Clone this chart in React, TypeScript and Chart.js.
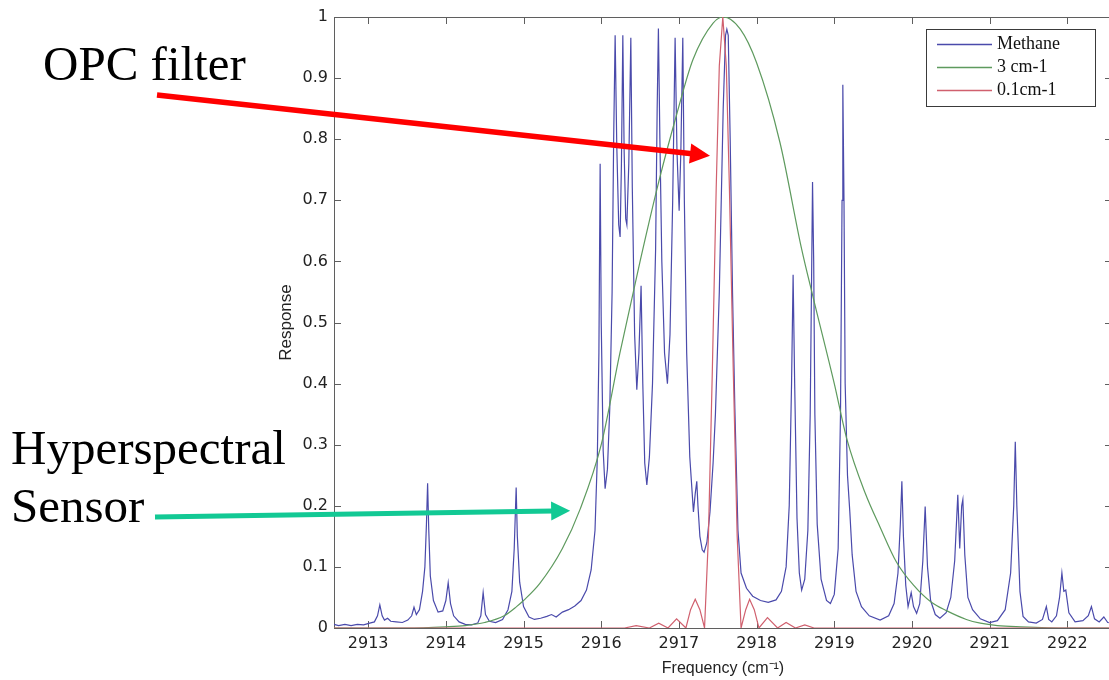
import React, { useEffect, useRef } from 'react';
import { Chart, registerables } from 'chart.js';

Chart.register(...registerables);

// ---------- data ----------
const xTicks = [2913, 2914, 2915, 2916, 2917, 2918, 2919, 2920, 2921, 2922];
const yTicks = [0, 0.1, 0.2, 0.3, 0.4, 0.5, 0.6, 0.7, 0.8, 0.9, 1];
const yTickLabels = ['0', '0.1', '0.2', '0.3', '0.4', '0.5', '0.6', '0.7', '0.8', '0.9', '1'];
const seriesLabels = ['Methane', '3 cm-1', '0.1cm-1'];
const xTitle = 'Frequency (cm\u207B\u00B9)';
const yTitle = 'Response';
const noteOPC = 'OPC filter';
const noteHyper = ['Hyperspectral', 'Sensor'];

const xRange = [2912.56, 2922.575];
const yRange = [0, 1];

// methane absorption response [frequency, response]
const methane: [number, number][] = [
  [2912.56, 0.006], [2912.62, 0.004], [2912.7, 0.006], [2912.78, 0.004], [2912.86, 0.006],
  [2912.94, 0.005], [2913.02, 0.008], [2913.08, 0.01], [2913.12, 0.02], [2913.15, 0.038],
  [2913.18, 0.02], [2913.21, 0.013], [2913.25, 0.016], [2913.29, 0.011], [2913.36, 0.01],
  [2913.44, 0.009], [2913.51, 0.013], [2913.56, 0.02], [2913.59, 0.034], [2913.62, 0.022],
  [2913.66, 0.03], [2913.7, 0.06], [2913.73, 0.1], [2913.75, 0.17], [2913.765, 0.237],
  [2913.78, 0.16], [2913.8, 0.085], [2913.84, 0.045], [2913.9, 0.026], [2913.96, 0.028],
  [2914.0, 0.045], [2914.03, 0.074], [2914.06, 0.04], [2914.1, 0.02], [2914.17, 0.01],
  [2914.25, 0.006], [2914.33, 0.005], [2914.41, 0.008], [2914.45, 0.02], [2914.48, 0.058],
  [2914.51, 0.022], [2914.56, 0.011], [2914.64, 0.009], [2914.73, 0.014], [2914.8, 0.03],
  [2914.85, 0.06], [2914.88, 0.13], [2914.905, 0.23], [2914.92, 0.15], [2914.95, 0.075],
  [2915.0, 0.035], [2915.07, 0.018], [2915.14, 0.014], [2915.22, 0.016], [2915.3, 0.019],
  [2915.36, 0.022], [2915.42, 0.018], [2915.5, 0.026], [2915.58, 0.03], [2915.66, 0.036],
  [2915.74, 0.045], [2915.81, 0.062], [2915.87, 0.095], [2915.92, 0.16], [2915.95, 0.28],
  [2915.97, 0.45], [2915.986, 0.76], [2916.0, 0.5], [2916.025, 0.29], [2916.05, 0.228],
  [2916.08, 0.26], [2916.11, 0.36], [2916.14, 0.55], [2916.16, 0.8], [2916.179, 0.97],
  [2916.2, 0.79], [2916.225, 0.66], [2916.243, 0.64], [2916.26, 0.76], [2916.278, 0.97],
  [2916.295, 0.78], [2916.315, 0.67], [2916.33, 0.66], [2916.355, 0.76], [2916.381, 0.966],
  [2916.4, 0.72], [2916.43, 0.48], [2916.458, 0.39], [2916.485, 0.45], [2916.513, 0.56],
  [2916.535, 0.4], [2916.56, 0.27], [2916.587, 0.234], [2916.62, 0.28], [2916.66, 0.4],
  [2916.7, 0.62], [2916.72, 0.85], [2916.736, 0.981], [2916.755, 0.8], [2916.78, 0.6],
  [2916.815, 0.45], [2916.852, 0.4], [2916.885, 0.48], [2916.92, 0.7], [2916.951, 0.966],
  [2916.975, 0.78], [2917.003, 0.683], [2917.025, 0.78], [2917.05, 0.966], [2917.07, 0.7],
  [2917.1, 0.45], [2917.14, 0.28], [2917.187, 0.19], [2917.21, 0.22], [2917.23, 0.24],
  [2917.245, 0.2], [2917.27, 0.15], [2917.3, 0.128], [2917.324, 0.124], [2917.36, 0.14],
  [2917.4, 0.19], [2917.44, 0.27], [2917.47, 0.35], [2917.52, 0.55], [2917.57, 0.85],
  [2917.6, 0.97], [2917.617, 0.98], [2917.635, 0.97], [2917.66, 0.8], [2917.69, 0.55],
  [2917.72, 0.36], [2917.76, 0.16], [2917.8, 0.09], [2917.87, 0.065], [2917.95, 0.052],
  [2918.05, 0.045], [2918.15, 0.042], [2918.25, 0.046], [2918.32, 0.06], [2918.38, 0.1],
  [2918.42, 0.2], [2918.45, 0.4], [2918.47, 0.578], [2918.49, 0.4], [2918.52, 0.18],
  [2918.55, 0.09], [2918.58, 0.062], [2918.62, 0.08], [2918.66, 0.16], [2918.69, 0.35],
  [2918.71, 0.6], [2918.72, 0.73], [2918.735, 0.6], [2918.75, 0.35], [2918.78, 0.17],
  [2918.83, 0.08], [2918.9, 0.045], [2918.95, 0.04], [2919.0, 0.055], [2919.05, 0.13],
  [2919.08, 0.35], [2919.1, 0.7], [2919.11, 0.889], [2919.125, 0.7], [2919.14, 0.4],
  [2919.17, 0.25], [2919.2, 0.19], [2919.23, 0.12], [2919.28, 0.06], [2919.35, 0.035],
  [2919.45, 0.02], [2919.59, 0.013], [2919.7, 0.02], [2919.77, 0.04], [2919.82, 0.09],
  [2919.85, 0.17], [2919.87, 0.24], [2919.89, 0.15], [2919.92, 0.07], [2919.95, 0.035],
  [2919.99, 0.058], [2920.02, 0.035], [2920.06, 0.024], [2920.1, 0.04], [2920.14, 0.11],
  [2920.17, 0.199], [2920.2, 0.1], [2920.24, 0.045], [2920.3, 0.022], [2920.36, 0.016],
  [2920.44, 0.025], [2920.5, 0.05], [2920.55, 0.11], [2920.59, 0.218], [2920.615, 0.13],
  [2920.64, 0.2], [2920.655, 0.21], [2920.68, 0.12], [2920.72, 0.05], [2920.78, 0.03],
  [2920.88, 0.015], [2921.0, 0.009], [2921.1, 0.012], [2921.2, 0.03], [2921.27, 0.09],
  [2921.31, 0.2], [2921.33, 0.305], [2921.35, 0.2], [2921.39, 0.06], [2921.43, 0.019],
  [2921.5, 0.01], [2921.6, 0.008], [2921.68, 0.014], [2921.73, 0.035], [2921.76, 0.014],
  [2921.8, 0.01], [2921.86, 0.02], [2921.9, 0.05], [2921.93, 0.09], [2921.955, 0.06],
  [2921.98, 0.062], [2922.02, 0.025], [2922.1, 0.01], [2922.2, 0.012], [2922.27, 0.02],
  [2922.31, 0.035], [2922.35, 0.015], [2922.41, 0.01], [2922.47, 0.018], [2922.52, 0.009],
  [2922.6, 0.008],
];

// 3 cm-1 hyperspectral sensor response
const filter3: [number, number][] = [
  [2912.56, 0], [2913.5, 0], [2914.0, 0.002], [2914.25, 0.004], [2914.5, 0.009],
  [2914.75, 0.02], [2914.91, 0.035], [2915.0, 0.045], [2915.21, 0.073], [2915.5, 0.13],
  [2915.73, 0.195], [2916.0, 0.3], [2916.24, 0.45], [2916.5, 0.6], [2916.74, 0.73],
  [2916.97, 0.84], [2917.18, 0.93], [2917.44, 0.99], [2917.57, 1.0], [2917.79, 0.98],
  [2918.0, 0.925], [2918.3, 0.795], [2918.58, 0.62], [2918.73, 0.54], [2919.0, 0.4],
  [2919.16, 0.31], [2919.4, 0.22], [2919.59, 0.165], [2919.8, 0.108], [2920.02, 0.07],
  [2920.25, 0.042], [2920.45, 0.028], [2920.7, 0.014], [2920.88, 0.008], [2921.1, 0.004],
  [2921.4, 0.002], [2922.0, 0], [2922.6, 0],
];

// 0.1 cm-1 OPC filter response
const filter01: [number, number][] = [
  [2912.56, 0], [2916.3, 0], [2916.45, 0.004], [2916.62, 0], [2916.74, 0.008],
  [2916.86, 0], [2916.97, 0.015], [2917.09, 0], [2917.15, 0.03], [2917.21, 0.047],
  [2917.27, 0.03], [2917.33, 0], [2917.38, 0.15], [2917.43, 0.42], [2917.48, 0.72],
  [2917.52, 0.92], [2917.565, 1.0], [2917.61, 0.92], [2917.65, 0.72], [2917.7, 0.42],
  [2917.75, 0.15], [2917.8, 0], [2917.86, 0.03], [2917.91, 0.047], [2917.97, 0.03],
  [2918.03, 0], [2918.14, 0.017], [2918.27, 0], [2918.38, 0.009], [2918.5, 0],
  [2918.62, 0.005], [2918.74, 0], [2922.6, 0],
];

// arrow tips in data coordinates [frequency, response]
const opcArrowTip: [number, number] = [2917.4, 0.773];
const hyperArrowTip: [number, number] = [2915.6, 0.192];

const colors = ['#4a4aab', '#5e9a5e', '#d0606e'];

function drawArrow(ctx: CanvasRenderingContext2D, x0: number, y0: number, x1: number, y1: number,
  color: string, width: number, headLen: number, headHalf: number) {
  const ang = Math.atan2(y1 - y0, x1 - x0);
  const bx = x1 - Math.cos(ang) * headLen;
  const by = y1 - Math.sin(ang) * headLen;
  ctx.strokeStyle = color;
  ctx.fillStyle = color;
  ctx.lineWidth = width;
  ctx.lineCap = 'butt';
  ctx.beginPath();
  ctx.moveTo(x0, y0);
  ctx.lineTo(bx + Math.cos(ang) * 2, by + Math.sin(ang) * 2);
  ctx.stroke();
  ctx.beginPath();
  ctx.moveTo(x1, y1);
  ctx.lineTo(bx + Math.sin(ang) * headHalf, by - Math.cos(ang) * headHalf);
  ctx.lineTo(bx - Math.sin(ang) * headHalf, by + Math.cos(ang) * headHalf);
  ctx.closePath();
  ctx.fill();
}

const decorPlugin = {
  id: 'decor',
  beforeDraw(chart: any) {
    const ctx = chart.ctx;
    ctx.save();
    ctx.fillStyle = '#ffffff';
    ctx.fillRect(0, 0, chart.width, chart.height);
    ctx.restore();
  },
  beforeDatasetsDraw(chart: any) {
    const { ctx, chartArea: a, scales } = chart;
    const xs = scales.x, ys = scales.y;
    ctx.save();
    ctx.strokeStyle = '#5f5f5f';
    ctx.lineWidth = 1;
    ctx.strokeRect(Math.round(a.left) + 0.5, Math.round(a.top) + 0.5,
      Math.round(a.right - a.left), Math.round(a.bottom - a.top));
    const tl = 7;
    ctx.beginPath();
    xs.ticks.forEach((t: any) => {
      const px = Math.round(xs.getPixelForValue(t.value)) + 0.5;
      ctx.moveTo(px, a.bottom); ctx.lineTo(px, a.bottom - tl);
      ctx.moveTo(px, a.top); ctx.lineTo(px, a.top + tl);
    });
    ys.ticks.forEach((t: any) => {
      const py = Math.round(ys.getPixelForValue(t.value)) + 0.5;
      ctx.moveTo(a.left, py); ctx.lineTo(a.left + tl, py);
      ctx.moveTo(a.right, py); ctx.lineTo(a.right - tl, py);
    });
    ctx.stroke();
    ctx.restore();
  },
  afterDraw(chart: any) {
    const { ctx, chartArea: a, scales } = chart;
    const xs = scales.x, ys = scales.y;
    ctx.save();
    // legend box
    const lx = 926, ly = 29, lw = 169, lh = 77;
    ctx.fillStyle = '#ffffff';
    ctx.fillRect(lx, ly, lw, lh);
    ctx.strokeStyle = '#3a3a3a';
    ctx.lineWidth = 1;
    ctx.strokeRect(lx + 0.5, ly + 0.5, lw, lh);
    ctx.font = '18px "Liberation Serif", "Times New Roman", serif';
    ctx.textBaseline = 'middle';
    chart.data.datasets.forEach((ds: any, i: number) => {
      const yy = ly + 15 + i * 23;
      ctx.strokeStyle = ds.borderColor;
      ctx.lineWidth = 1.5;
      ctx.beginPath();
      ctx.moveTo(lx + 11, yy + 0.5);
      ctx.lineTo(lx + 66, yy + 0.5);
      ctx.stroke();
      ctx.fillStyle = '#111111';
      ctx.fillText(ds.label, lx + 71, yy);
    });
    // annotations
    ctx.fillStyle = '#000000';
    ctx.textBaseline = 'alphabetic';
    ctx.font = '49px "Liberation Serif", "Times New Roman", serif';
    ctx.fillText(noteOPC, 43, 80);
    ctx.fillText(noteHyper[0], 11, 464);
    ctx.fillText(noteHyper[1], 11, 522);
    drawArrow(ctx, 157, 95, xs.getPixelForValue(opcArrowTip[0]), ys.getPixelForValue(opcArrowTip[1]),
      '#ff0000', 5.5, 20, 10);
    drawArrow(ctx, 155, 517, xs.getPixelForValue(hyperArrowTip[0]), ys.getPixelForValue(hyperArrowTip[1]),
      '#12c994', 5, 19, 9.5);
    ctx.restore();
  },
};

export default function App() {
  const ref = useRef<HTMLCanvasElement>(null);
  useEffect(() => {
    document.body.style.margin = '0';
    const canvas = ref.current;
    if (!canvas) return;
    const mk = (pts: [number, number][]) => pts.map(([x, y]) => ({ x, y }));
    const chart = new Chart(canvas, {
      type: 'line',
      data: {
        datasets: [
          { label: seriesLabels[0], data: mk(methane), borderColor: colors[0], borderWidth: 1.2, pointRadius: 0, tension: 0, order: 3 },
          { label: seriesLabels[1], data: mk(filter3), borderColor: colors[1], borderWidth: 1.2, pointRadius: 0, tension: 0.4, cubicInterpolationMode: 'monotone', order: 2 },
          { label: seriesLabels[2], data: mk(filter01), borderColor: colors[2], borderWidth: 1.2, pointRadius: 0, tension: 0, order: 1 },
        ] as any,
      },
      options: {
        animation: false,
        responsive: false,
        events: [],
        layout: { padding: { left: 276, top: 17, right: 4, bottom: 0 } },
        plugins: { legend: { display: false }, tooltip: { enabled: false } },
        scales: {
          x: {
            type: 'linear',
            min: xRange[0],
            max: xRange[1],
            grid: { display: false, drawTicks: false },
            border: { display: false },
            afterBuildTicks: (s: any) => { s.ticks = xTicks.map((v) => ({ value: v })); },
            afterFit: (s: any) => { s.height = 52; },
            ticks: {
              padding: 6,
              color: '#222222',
              font: { family: '"DejaVu Sans", sans-serif', size: 16 },
              callback: (v: any) => String(v),
            },
            title: {
              display: true,
              text: xTitle,
              color: '#222222',
              font: { family: '"Liberation Sans", Arial, sans-serif', size: 16 },
              padding: { top: 0, bottom: 2 },
            },
          },
          y: {
            type: 'linear',
            min: yRange[0],
            max: yRange[1],
            grid: { display: false, drawTicks: false },
            border: { display: false },
            afterBuildTicks: (s: any) => { s.ticks = yTicks.map((v) => ({ value: v })); },
            afterFit: (s: any) => { s.width = 58; },
            ticks: {
              padding: 6,
              color: '#222222',
              font: { family: '"DejaVu Sans", sans-serif', size: 16 },
              callback: (_v: any, i: number) => yTickLabels[i],
            },
            title: {
              display: true,
              text: yTitle,
              color: '#222222',
              font: { family: '"Liberation Sans", Arial, sans-serif', size: 17 },
              padding: { top: 0, bottom: 0 },
            },
          },
        },
      },
      plugins: [decorPlugin],
    });
    return () => chart.destroy();
  }, []);
  return (
    <div style={{ position: 'absolute', left: 0, top: 0, width: 1109, height: 680, overflow: 'hidden', background: '#ffffff' }}>
      <canvas ref={ref} width={1116} height={680} style={{ width: 1116, height: 680, display: 'block' }} />
    </div>
  );
}
